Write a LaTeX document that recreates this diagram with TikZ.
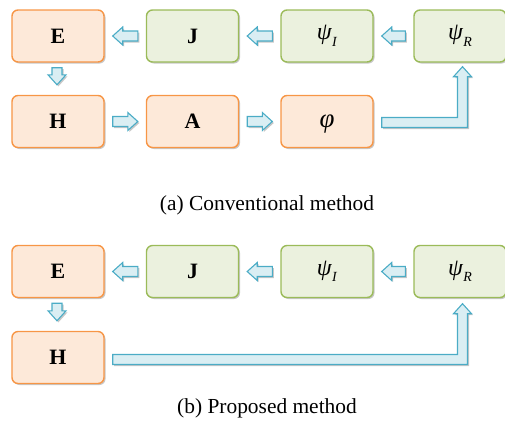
\documentclass[tikz,border=0pt]{standalone}
\usepackage{fontspec}
\setmainfont{Liberation Serif}
\usetikzlibrary{calc,shadows}
\definecolor{orB}{HTML}{F79646}
\definecolor{orF}{HTML}{FDE9D9}
\definecolor{grB}{HTML}{9BBB59}
\definecolor{grF}{HTML}{EBF1DE}
\definecolor{blB}{HTML}{4BACC6}
\definecolor{blF}{HTML}{DAEEF3}
\tikzset{
  box/.style={rounded corners=6bp, line width=1.4bp, minimum width=92bp,
    minimum height=52bp, inner sep=0pt, font=\fontsize{22}{26}\selectfont,
    drop shadow={shadow xshift=1.5bp, shadow yshift=-1.5bp, opacity=0.22, fill=black}},
  obox/.style={box, draw=orB, fill=orF},
  gbox/.style={box, draw=grB, fill=grF},
  barr/.style={draw=blB, fill=blF, line width=1.1bp, line join=miter,
    drop shadow={shadow xshift=1.5bp, shadow yshift=-1.5bp, opacity=0.22, fill=black}},
  captxt/.style={font=\fontsize{21.5}{25}\selectfont, inner sep=0pt}
}
\newcommand{\psisub}[1]{{\fontsize{24}{26}\selectfont\textit{ψ}}\raisebox{-0.3em}{\fontsize{14}{14}\selectfont\textit{#1}}}
\newcommand{\blockarr}[2]{%
  \coordinate (hb) at ($(#2)!10bp!(#1)$);
  \path[barr] ($(#1)!5bp!90:(#2)$) -- ($(hb)!5bp!90:(#2)$) -- ($(hb)!9bp!90:(#2)$)
    -- (#2) -- ($(hb)!9bp!-90:(#2)$) -- ($(hb)!5bp!-90:(#2)$)
    -- ($(#1)!5bp!-90:(#2)$) -- cycle;}
\newcommand{\bentarr}[2]{%
  \path[barr] let \p1=(#1), \p2=(#2) in
    (\x1,{\y1+5bp}) -- ({\x2-5bp},{\y1+5bp}) -- ({\x2-5bp},{\y2-10bp})
    -- ({\x2-9bp},{\y2-10bp}) -- (\x2,\y2) -- ({\x2+9bp},{\y2-10bp})
    -- ({\x2+5bp},{\y2-10bp}) -- ({\x2+5bp},{\y1-5bp}) -- (\x1,{\y1-5bp}) -- cycle;}
\begin{document}
\begin{tikzpicture}[x=1bp,y=-1bp]
\useasboundingbox (0,0) rectangle (505,421);
% (a) conventional
\node[obox] (E1) at (58,36) {\textbf{E}};
\node[gbox] (J1) at (192.5,36) {\textbf{J}};
\node[gbox] (I1) at (327,36) {\psisub{I}};
\node[gbox] (R1) at (460,36) {\psisub{R}};
\node[obox] (H1) at (58,121.5) {\textbf{H}};
\node[obox] (A1) at (192.5,121.5) {\textbf{A}};
\node[obox, text height=14bp, text depth=2bp] (P1) at (327,121.5) {\fontsize{27}{28}\selectfont\textit{φ}};
\coordinate (a1s) at ($(J1.west)+(-8,0)$);
\coordinate (a1t) at ($(E1.east)+(8,0)$);
\blockarr{a1s}{a1t}
\coordinate (a2s) at ($(I1.west)+(-8,0)$);
\coordinate (a2t) at ($(J1.east)+(8,0)$);
\blockarr{a2s}{a2t}
\coordinate (a3s) at ($(R1.west)+(-8,0)$);
\coordinate (a3t) at ($(I1.east)+(8,0)$);
\blockarr{a3s}{a3t}
\coordinate (a4s) at ($(E1.south)+(-1,5)$);
\coordinate (a4t) at ($(H1.north)+(-1,-10)$);
\blockarr{a4s}{a4t}
\coordinate (a5s) at ($(H1.east)+(8,0)$);
\coordinate (a5t) at ($(A1.west)+(-8,0)$);
\blockarr{a5s}{a5t}
\coordinate (a6s) at ($(A1.east)+(8,0)$);
\coordinate (a6t) at ($(P1.west)+(-8,0)$);
\blockarr{a6s}{a6t}
\coordinate (a7s) at ($(P1.east)+(8,1)$);
\coordinate (a7t) at ($(R1.south)+(2.5,4)$);
\bentarr{a7s}{a7t}
\node[captxt] (capa) at (267,205) {(a) Conventional method};
% (b) proposed
\node[obox] (E2) at (58,271.5) {\textbf{E}};
\node[gbox] (J2) at (192.5,271.5) {\textbf{J}};
\node[gbox] (I2) at (327,271.5) {\psisub{I}};
\node[gbox] (R2) at (460,271.5) {\psisub{R}};
\node[obox] (H2) at (58,357.5) {\textbf{H}};
\coordinate (b1s) at ($(J2.west)+(-8,0)$);
\coordinate (b1t) at ($(E2.east)+(8,0)$);
\blockarr{b1s}{b1t}
\coordinate (b2s) at ($(I2.west)+(-8,0)$);
\coordinate (b2t) at ($(J2.east)+(8,0)$);
\blockarr{b2s}{b2t}
\coordinate (b3s) at ($(R2.west)+(-8,0)$);
\coordinate (b3t) at ($(I2.east)+(8,0)$);
\blockarr{b3s}{b3t}
\coordinate (b4s) at ($(E2.south)+(-1,5)$);
\coordinate (b4t) at ($(H2.north)+(-1,-10)$);
\blockarr{b4s}{b4t}
\coordinate (b5s) at ($(H2.east)+(8,2)$);
\coordinate (b5t) at ($(R2.south)+(2.5,5.5)$);
\bentarr{b5s}{b5t}
\node[captxt] (capb) at (267,408) {(b) Proposed method};
\end{tikzpicture}
\end{document}
